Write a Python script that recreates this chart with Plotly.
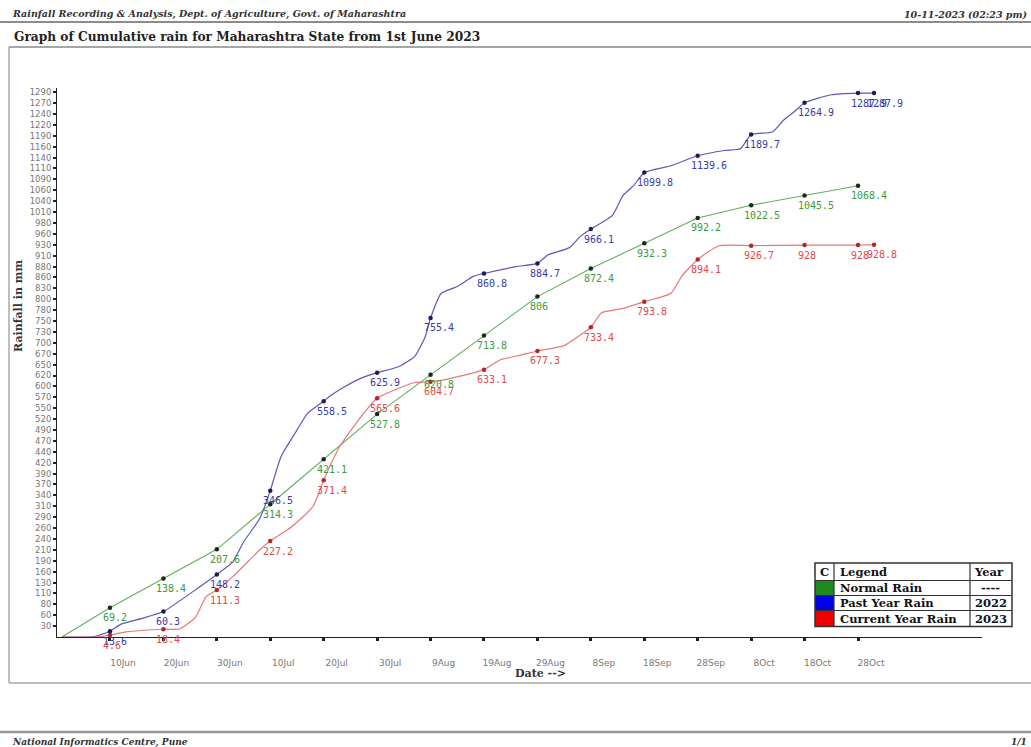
import plotly.graph_objects as go

# ---------------- data ----------------
tick_dates = ["2023-06-10", "2023-06-20", "2023-06-30", "2023-07-10", "2023-07-20",
              "2023-07-30", "2023-08-09", "2023-08-19", "2023-08-29", "2023-09-08",
              "2023-09-18", "2023-09-28", "2023-10-08", "2023-10-18", "2023-10-28"]
tick_labels = ["10Jun", "20Jun", "30Jun", "10Jul", "20Jul", "30Jul", "9Aug", "19Aug",
               "29Aug", "8Sep", "18Sep", "28Sep", "8Oct", "18Oct", "28Oct"]

y_tick_labels = ["30", "60", "80", "110", "130", "160", "190", "210", "240", "260",
                 "290", "310", "340", "370", "390", "420", "440", "470", "490", "520",
                 "550", "570", "600", "620", "650", "670", "700", "730", "750", "780",
                 "800", "830", "860", "880", "910", "930", "960", "980", "1010", "1040",
                 "1060", "1090", "1110", "1140", "1160", "1190", "1220", "1240", "1270", "1290"]
y_axis_max_label = 1290

# Normal rain (straight segments between 10-day points)
normal_dates = ["2023-06-01"] + tick_dates
normal_rain = [0, 69.2, 138.4, 207.6, 314.3, 421.1, 527.8, 620.8, 713.8, 806,
               872.4, 932.3, 992.2, 1022.5, 1045.5, 1068.4]

# Labelled points, past year (2022) and current year (2023)
marked_dates = tick_dates + ["2023-10-31"]
past_marked = [13.6, 60.3, 148.2, 346.5, 558.5, 625.9, 755.4, 860.8, 884.7, 966.1,
               1099.8, 1139.6, 1189.7, 1264.9, 1287.9, 1287.9]
current_marked = [4.6, 18.4, 111.3, 227.2, 371.4, 565.6, 604.7, 633.1, 677.3, 733.4,
                  793.8, 894.1, 926.7, 928, 928, 928.8]

# Cumulative curves
past_line_dates = ["2023-06-01", "2023-06-07", "2023-06-10", "2023-06-12", "2023-06-16",
                   "2023-06-20", "2023-06-30", "2023-07-03", "2023-07-05", "2023-07-08",
                   "2023-07-10", "2023-07-12", "2023-07-15", "2023-07-17", "2023-07-20",
                   "2023-07-21", "2023-07-24", "2023-07-27", "2023-07-30", "2023-08-03",
                   "2023-08-06", "2023-08-08", "2023-08-09", "2023-08-11", "2023-08-14",
                   "2023-08-17", "2023-08-19", "2023-08-25", "2023-08-29", "2023-08-31",
                   "2023-09-04", "2023-09-06", "2023-09-08", "2023-09-12", "2023-09-14",
                   "2023-09-16", "2023-09-18", "2023-09-23", "2023-09-28", "2023-10-03",
                   "2023-10-06", "2023-10-08", "2023-10-12", "2023-10-14", "2023-10-16",
                   "2023-10-18", "2023-10-23", "2023-10-28", "2023-10-31"]
past_line_rain = [0, 1, 13.6, 30, 44,
                  60.3, 148.2, 178, 225, 280,
                  346.5, 427, 490, 530, 558.5,
                  569, 593, 613, 625.9, 640,
                  664, 711, 755.4, 814, 830,
                  854, 860.8, 877, 884.7, 905,
                  922, 948, 966.1, 998, 1045,
                  1069, 1099.8, 1116, 1139.6, 1152,
                  1156, 1189.7, 1196, 1223, 1243,
                  1264.9, 1284, 1287.9, 1287.9]

current_line_dates = ["2023-06-01", "2023-06-08", "2023-06-10", "2023-06-13", "2023-06-20",
                      "2023-06-23", "2023-06-26", "2023-06-28", "2023-06-30", "2023-07-03",
                      "2023-07-08", "2023-07-10", "2023-07-14", "2023-07-18", "2023-07-20",
                      "2023-07-23", "2023-07-27", "2023-07-30", "2023-08-06", "2023-08-09",
                      "2023-08-12", "2023-08-19", "2023-08-22", "2023-08-26", "2023-08-29",
                      "2023-09-03", "2023-09-06", "2023-09-08", "2023-09-10", "2023-09-14",
                      "2023-09-18", "2023-09-23", "2023-09-25", "2023-09-28", "2023-10-02",
                      "2023-10-08", "2023-10-18", "2023-10-28", "2023-10-31"]
current_line_rain = [0, 0.5, 4.6, 12, 18.4,
                     19, 46.6, 95.6, 111.3, 143,
                     206, 227.2, 261, 309, 371.4,
                     451, 522, 565.6, 602.6, 604.7,
                     610, 633.1, 656, 668, 677.3,
                     690, 715, 733.4, 768, 778,
                     793.8, 814, 854, 894.1, 926.5,
                     926.7, 928, 928, 928.8]

legend_rows = ["Normal Rain", "Past Year Rain", "Current Year Rain"]
legend_years = ["----", "2022", "2023"]

# ---------------- layout helpers ----------------
W, H = 1031, 747
ML, MR, MT, MB = 57, 49, 88, 110
PW = W - ML - MR
PH = H - MT - MB


def px(x):
    return (x - ML) / PW


def py(y):
    return (H - MB - y) / PH


GREEN_LINE, GREEN_TXT, GREEN_SW = "#5fae5f", "#3c9a3c", "#1f8a1f"
BLUE_LINE, BLUE_TXT, BLUE_SW = "#5a5ab8", "#3a3aa8", "#0000e6"
RED_LINE, RED_TXT, RED_SW = "#e87878", "#e04a4a", "#ee0000"

fig = go.Figure()

fig.add_trace(go.Scatter(x=normal_dates, y=normal_rain, mode="lines",
                         line=dict(color=GREEN_LINE, width=1.1), hoverinfo="skip"))
fig.add_trace(go.Scatter(x=past_line_dates, y=past_line_rain, mode="lines",
                         line=dict(color=BLUE_LINE, width=1.2, shape="spline", smoothing=0.5),
                         hoverinfo="skip"))
fig.add_trace(go.Scatter(x=current_line_dates, y=current_line_rain, mode="lines",
                         line=dict(color=RED_LINE, width=1.2, shape="spline", smoothing=0.5),
                         hoverinfo="skip"))

fig.add_trace(go.Scatter(x=normal_dates[1:], y=normal_rain[1:], mode="markers",
                         marker=dict(color="#1a2a1a", size=4.5)))
fig.add_trace(go.Scatter(x=marked_dates, y=past_marked, mode="markers",
                         marker=dict(color="#1c1c5a", size=4.5)))
fig.add_trace(go.Scatter(x=marked_dates, y=current_marked, mode="markers",
                         marker=dict(color="#b02828", size=4.5)))

annotations = []
LABEL_FONT = "DejaVu Sans Mono"


def add_labels(dates, vals, color):
    for d, v in zip(dates, vals):
        annotations.append(dict(x=d, y=v, xref="x", yref="y", text=f"{v:g}",
                                showarrow=False, xanchor="left", yanchor="middle",
                                xshift=-9, yshift=-10,
                                font=dict(family=LABEL_FONT, size=10, color=color)))


add_labels(normal_dates[1:], normal_rain[1:], GREEN_TXT)
add_labels(marked_dates, past_marked, BLUE_TXT)
add_labels(marked_dates, current_marked, RED_TXT)

SERIF = "DejaVu Serif"

# header / footer / titles
annotations += [
    dict(x=px(10), y=py(14), xref="paper", yref="paper", xanchor="left", yanchor="middle",
         text="<b><i>Rainfall Recording &amp; Analysis, Dept. of Agriculture, Govt. of Maharashtra</i></b>",
         showarrow=False, font=dict(family=SERIF, size=9.5, color="#333")),
    dict(x=px(1029), y=py(14), xref="paper", yref="paper", xanchor="right", yanchor="middle",
         text="<b><i>10-11-2023 (02:23 pm)</i></b>",
         showarrow=False, font=dict(family=SERIF, size=9.5, color="#333")),
    dict(x=px(12), y=py(37), xref="paper", yref="paper", xanchor="left", yanchor="middle",
         text="<b>Graph of Cumulative rain for Maharashtra State from 1st June 2023</b>",
         showarrow=False, font=dict(family=SERIF, size=12.2, color="#222")),
    dict(x=px(18), y=py(306), xref="paper", yref="paper", xanchor="center", yanchor="middle",
         text="<b>Rainfall in mm</b>", textangle=-90,
         showarrow=False, font=dict(family=SERIF, size=11, color="#333")),
    dict(x=px(540), y=py(673), xref="paper", yref="paper", xanchor="center", yanchor="middle",
         text="<b>Date --&gt;</b>",
         showarrow=False, font=dict(family=SERIF, size=11, color="#333")),
    dict(x=px(10), y=py(742), xref="paper", yref="paper", xanchor="left", yanchor="middle",
         text="<b><i>National Informatics Centre, Pune</i></b>",
         showarrow=False, font=dict(family=SERIF, size=9, color="#333")),
    dict(x=px(1029), y=py(742), xref="paper", yref="paper", xanchor="right", yanchor="middle",
         text="<b><i>1/1</i></b>",
         showarrow=False, font=dict(family=SERIF, size=9, color="#333")),
]

shapes = []


def hline(y, x0, x1, color, width):
    shapes.append(dict(type="line", xref="paper", yref="paper", x0=px(x0), x1=px(x1),
                       y0=py(y), y1=py(y), line=dict(color=color, width=width)))


def vline(x, y0, y1, color, width):
    shapes.append(dict(type="line", xref="paper", yref="paper", x0=px(x), x1=px(x),
                       y0=py(y0), y1=py(y1), line=dict(color=color, width=width)))


hline(22, 0, 1031, "#666", 1.5)
hline(47, 9, 1031, "#888", 1.5)
vline(9, 47, 683, "#aaa", 1.5)
hline(683, 9, 1031, "#aaa", 1.5)
hline(732, 0, 1031, "#999", 2.5)

# legend table
LX0, LX1, LXC, LXY = 815, 1012, 834, 970
row_y = [563, 580.5, 595.5, 610.5, 626.5]
sw_colors = [GREEN_SW, BLUE_SW, RED_SW]
for i, c in enumerate(sw_colors):
    shapes.append(dict(type="rect", xref="paper", yref="paper", x0=px(LX0), x1=px(LXC),
                       y0=py(row_y[i + 1]), y1=py(row_y[i + 2]),
                       fillcolor=c, line=dict(width=0)))
shapes.append(dict(type="rect", xref="paper", yref="paper", x0=px(LX0), x1=px(LX1),
                   y0=py(row_y[0]), y1=py(row_y[-1]), line=dict(color="#333", width=1.5)))
for yy in row_y[1:-1]:
    hline(yy, LX0, LX1, "#333", 1.2)
vline(LXC, row_y[0], row_y[-1], "#333", 1.2)
vline(LXY, row_y[0], row_y[-1], "#333", 1.2)

LFONT = dict(family=SERIF, size=11.5, color="#111")


def cell(x, y, text, anchor="left"):
    annotations.append(dict(x=px(x), y=py(y), xref="paper", yref="paper", xanchor=anchor,
                            yanchor="middle", text=f"<b>{text}</b>", showarrow=False,
                            font=LFONT))


cell((LX0 + LXC) / 2, (row_y[0] + row_y[1]) / 2, "C", "center")
cell(LXC + 4, (row_y[0] + row_y[1]) / 2, "Legend")
cell(LXY + 2, (row_y[0] + row_y[1]) / 2, "Year")
for i, (name, yr) in enumerate(zip(legend_rows, legend_years)):
    yc = (row_y[i + 1] + row_y[i + 2]) / 2
    cell(LXC + 4, yc, name)
    cell((LXY + LX1) / 2, yc, yr, "center")

y_step = y_axis_max_label / len(y_tick_labels)
y_tickvals = [y_step * (i + 1) for i in range(len(y_tick_labels))]

fig.update_layout(
    template="none",
    width=W, height=H,
    margin=dict(l=ML, r=MR, t=MT, b=MB, pad=0),
    paper_bgcolor="white", plot_bgcolor="white",
    showlegend=False,
    hovermode=False,
    annotations=annotations,
    shapes=shapes,
    xaxis=dict(type="date", range=["2023-05-31 02:00", "2023-11-20 05:00"],
               tickvals=tick_dates, ticktext=tick_labels,
               showgrid=False, zeroline=False, showline=True, linecolor="#222", linewidth=1,
               ticks="outside", ticklen=3, tickwidth=3, tickcolor="#222",
               ticklabelshift=13, ticklabelstandoff=14,
               tickfont=dict(family="DejaVu Sans", size=9, color="#777"),
               automargin=False),
    yaxis=dict(range=[0, 1300], tickvals=y_tickvals, ticktext=y_tick_labels,
               showgrid=False, zeroline=False, showline=True, linecolor="#222", linewidth=1,
               ticks="outside", ticklen=3, tickwidth=2, tickcolor="#222",
               tickfont=dict(family="DejaVu Sans", size=8.5, color="#777"),
               automargin=False),
)

fig.write_html("out.html", config={"displayModeBar": False},
               post_script="document.body.style.margin='0';document.body.style.overflow='hidden';")
